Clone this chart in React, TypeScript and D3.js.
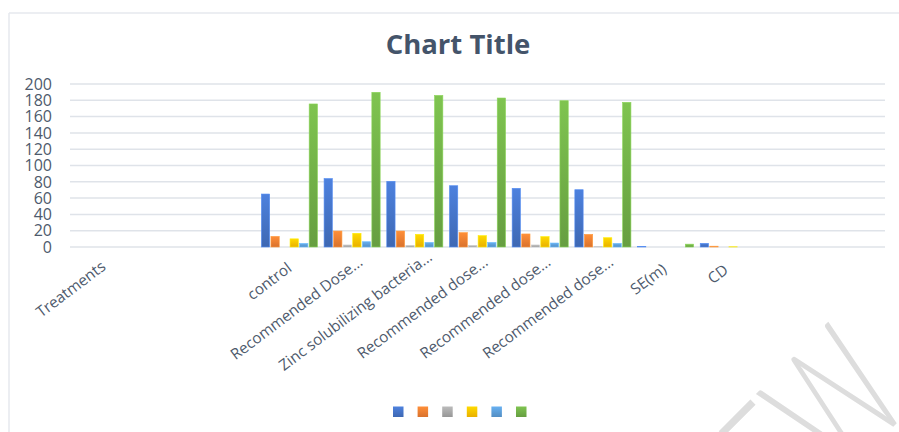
import React from "react";
import * as d3 from "d3";

// categories as they appear on the x axis (blank slots are empty rows in the sheet)
const categories = [
  "Treatments",
  "",
  "",
  "control",
  "Recommended Dose...",
  "Zinc solubilizing bacteria...",
  "Recommended dose...",
  "Recommended dose...",
  "Recommended dose...",
  "SE(m)",
  "CD",
  "",
  "",
];

const series1 = [0, 0, 0, 65, 84, 80.6, 75.2, 72, 70.3, 0.8, 4.5, 0, 0];
const series2 = [0, 0, 0, 13, 19.6, 19.6, 17.6, 16, 15.5, 0, 1, 0, 0];
const series3 = [0, 0, 0, 0, 2.5, 2, 2, 2.5, 0.5, 0, 0, 0, 0];
const series4 = [0, 0, 0, 10, 16.8, 15.5, 13.9, 12.7, 11.4, 0, 0.3, 0, 0];
const series5 = [0, 0, 0, 4.5, 6.5, 5.7, 5.7, 4.9, 4.5, 0, 0, 0, 0];
const series6 = [0, 0, 0, 175.5, 189.8, 186, 182.8, 179.5, 177.5, 3.5, 0, 0, 0];

const seriesValues = [series1, series2, series3, series4, series5, series6];
const seriesColors = ["#4472C4", "#ED7D31", "#A5A5A5", "#FFC000", "#5B9BD5", "#70AD47"];

const yTicks = [0, 20, 40, 60, 80, 100, 120, 140, 160, 180, 200];

const W = 899;
const H = 432;
const textColor = "#4E5A6C";
const gridColor = "#DFE3E9";
const font = "'Open Sans', 'DejaVu Sans', sans-serif";

export default function App() {
  const idx = categories.map((_, i) => String(i));
  const seriesIdx = seriesValues.map((_, i) => String(i));

  const x = d3.scaleBand().domain(idx).range([70, 885]).padding(0);
  const bw = x.bandwidth();
  const xSub = d3
    .scaleBand()
    .domain(seriesIdx)
    .range([3.3, bw - 3.3])
    .paddingInner(0.13);
  const y = d3.scaleLinear().domain([0, 200]).range([247, 84]);

  const legendX = d3.scaleBand().domain(seriesIdx).range([393, 540.6]);

  return (
    <svg
      width={W}
      height={H}
      style={{ position: "absolute", left: 0, top: 0, background: "#fff" }}
      fontFamily={font}
    >
      <defs>
        {seriesColors.map((c, i) => (
          <linearGradient key={i} id={`grad${i}`} x1="0" y1="0" x2="0" y2="1">
            <stop offset="0%" stopColor={d3.color(c)!.brighter(0.35).formatHex()} />
            <stop offset="100%" stopColor={d3.color(c)!.darker(0.25).formatHex()} />
          </linearGradient>
        ))}
      </defs>

      {/* chart area border */}
      <line x1={9} x2={W} y1={13} y2={13} stroke="#E6E9EE" strokeWidth={1.5} />
      <line x1={9} x2={9} y1={13} y2={H} stroke="#E6E9EE" strokeWidth={1.5} />

      <text x={458} y={54} textAnchor="middle" fontSize={27.5} fontWeight="bold" fill="#44546A">
        Chart Title
      </text>

      {/* gridlines + y labels */}
      {yTicks.map((t) => (
        <g key={t}>
          <line x1={70} x2={885} y1={y(t)} y2={y(t)} stroke={gridColor} strokeWidth={1.5} />
          <text
            x={52}
            y={y(t)}
            dy="0.36em"
            textAnchor="end"
            fontSize={16}
            fill={textColor}
          >
            {t}
          </text>
        </g>
      ))}

      {/* bars */}
      {categories.map((_, ci) => (
        <g key={ci} transform={`translate(${x(String(ci))},0)`}>
          {seriesValues.map((vals, si) =>
            vals[ci] > 0 ? (
              <rect
                key={si}
                x={xSub(String(si))}
                y={y(vals[ci])}
                width={xSub.bandwidth()}
                height={y(0) - y(vals[ci])}
                fill={`url(#grad${si})`}
                stroke={d3.color(seriesColors[si])!.brighter(0.6).formatHex()}
                strokeWidth={0.6}
              />
            ) : null
          )}
        </g>
      ))}

      {/* x labels, rotated; longer labels sit a little further along their line */}
      {categories.map((c, ci) => {
        const cx = (x(String(ci)) as number) + bw / 2 + 1;
        const shift = Math.max(0, c.length * 0.85 - 3);
        return (
          <text
            key={ci}
            transform={`translate(${cx},272) rotate(-37)`}
            dx={shift}
            textAnchor="end"
            fontSize={15.3}
            fill={textColor}
          >
            {c}
          </text>
        );
      })}

      {/* legend (series have no names) */}
      {seriesColors.map((c, i) => (
        <rect
          key={i}
          x={legendX(String(i))}
          y={406.5}
          width={10.5}
          height={10.5}
          fill={`url(#grad${i})`}
        />
      ))}

      {/* watermark */}
      <text
        transform="translate(915,405) rotate(-45) scale(0.62,1)"
        textAnchor="end"
        fontSize={170}
        fontWeight={300}
        fontFamily="Lato, 'Open Sans', sans-serif"
        fill="#DDDDDD"
      >
        PREVIEW
      </text>
    </svg>
  );
}
